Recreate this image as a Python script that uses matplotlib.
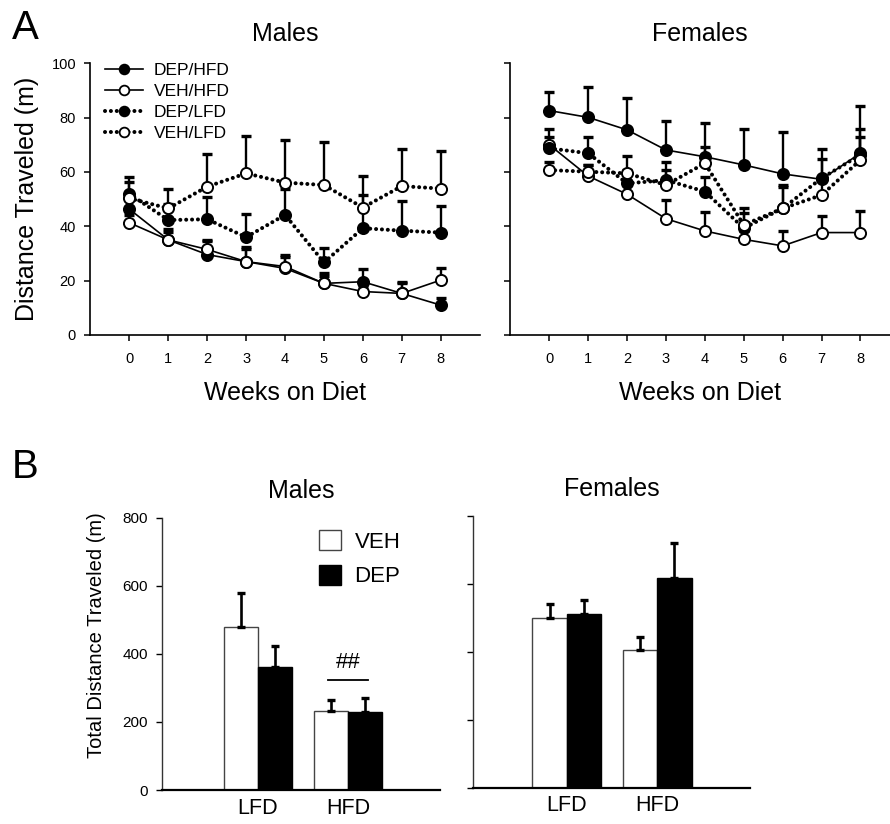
import numpy as np
import matplotlib
matplotlib.use("Agg")
import matplotlib.pyplot as plt
from matplotlib.patches import Patch
from matplotlib.lines import Line2D

plt.rcParams['font.family'] = ['Liberation Sans', 'DejaVu Sans']

# ---------------- data ----------------
weeks = [0, 1, 2, 3, 4, 5, 6, 7, 8]
series_names = ["DEP/HFD", "VEH/HFD", "DEP/LFD", "VEH/LFD"]

m_dep_hfd = [46.3, 35.0, 29.6, 27.0, 24.5, 19.0, 19.6, 15.3, 11.0]
m_dep_hfd_err = [5.0, 4.0, 5.5, 5.5, 5.0, 3.7, 4.6, 4.1, 2.5]
m_veh_hfd = [41.3, 35.0, 31.5, 27.0, 25.2, 19.0, 16.0, 15.3, 20.2]
m_veh_hfd_err = [3.0, 3.0, 3.0, 4.8, 3.6, 2.7, 1.5, 4.0, 4.3]
m_dep_lfd = [51.9, 42.3, 42.6, 36.0, 44.2, 26.7, 39.3, 38.4, 37.7]
m_dep_lfd_err = [4.5, 6.0, 8.3, 8.5, 9.4, 5.2, 12.2, 10.9, 9.8]
m_veh_lfd = [50.3, 46.6, 54.6, 59.5, 56.1, 55.2, 46.9, 54.8, 53.9]
m_veh_lfd_err = [7.7, 7.0, 11.9, 13.9, 15.6, 15.7, 11.6, 13.8, 14.0]

f_dep_hfd = [82.6, 80.1, 75.5, 68.1, 65.6, 62.6, 59.3, 57.3, 66.9]
f_dep_hfd_err = [7.0, 11.3, 11.6, 10.7, 12.6, 13.4, 15.5, 11.2, 17.5]
f_veh_hfd = [70.0, 58.5, 51.8, 42.8, 38.3, 35.2, 32.8, 37.7, 37.7]
f_veh_hfd_err = [3.0, 4.0, 4.0, 6.9, 7.1, 3.0, 5.5, 6.2, 7.9]
f_dep_lfd = [68.7, 66.9, 55.8, 57.0, 52.8, 39.3, 46.6, 57.7, 66.3]
f_dep_lfd_err = [7.3, 6.0, 5.0, 6.8, 5.5, 7.3, 8.6, 7.0, 9.4]
f_veh_lfd = [60.7, 60.1, 59.5, 55.2, 63.2, 40.5, 46.6, 51.5, 64.4]
f_veh_lfd_err = [3.0, 2.5, 6.4, 5.5, 6.1, 4.3, 8.0, 6.0, 8.4]

diets = ["LFD", "HFD"]
m_veh_total = [480, 232]
m_veh_total_err = [100, 32]
m_dep_total = [360, 230]
m_dep_total_err = [64, 39]
f_veh_total = [500, 404]
f_veh_total_err = [40, 40]
f_dep_total = [510, 616]
f_dep_total_err = [43, 103]

W, H = 890, 824
fig = plt.figure(figsize=(W / 100, H / 100), dpi=100)


def ax_px(l, r, t, b):
    return fig.add_axes([l / W, (H - b) / H, (r - l) / W, (b - t) / H])


dotted = (0, (0.01, 1.45))


def line_panel(ax, data, show_labels, show_legend, title):
    styles = [
        dict(ls='-', lw=1.2, mfc='black'),
        dict(ls='-', lw=1.2, mfc='white'),
        dict(ls=dotted, lw=2.9, mfc='black'),
        dict(ls=dotted, lw=2.9, mfc='white'),
    ]
    for (vals, errs), name, st in zip(data, series_names, styles):
        ax.errorbar(weeks, vals, yerr=[np.zeros(len(errs)), errs], fmt='none',
                    ecolor='black', elinewidth=1.7, capsize=3.8, capthick=2.4,
                    zorder=2)
        ax.plot(weeks, vals, color='black', linestyle=st['ls'], lw=st['lw'],
                dash_capstyle='round', marker='o', markersize=8,
                markerfacecolor=st['mfc'], markeredgecolor='black',
                markeredgewidth=1.4, label=name, zorder=3)
    ax.set_ylim(0, 100)
    ax.set_yticks([0, 20, 40, 60, 80, 100])
    ax.set_xticks(weeks)
    for s in ['top', 'right']:
        ax.spines[s].set_visible(False)
    for s in ['left', 'bottom']:
        ax.spines[s].set_linewidth(1.2)
    ax.tick_params(direction='out', length=4, width=1.1, labelsize=10.5, pad=6)
    ax.tick_params(axis='x', pad=8)
    ax.set_xlabel("Weeks on Diet", fontsize=18, labelpad=11)
    ax.set_title(title, fontsize=18, pad=16)
    if show_labels:
        ax.set_ylabel("Distance Traveled (m)", fontsize=18, labelpad=9)
    else:
        ax.set_yticklabels([])
    if show_legend:
        handles = []
        for st, name in zip(styles, series_names):
            handles.append(Line2D([0], [0], color='black', linestyle=st['ls'],
                                  lw=st['lw'], dash_capstyle='round', marker='o',
                                  markersize=7, markerfacecolor=st['mfc'],
                                  markeredgecolor='black', markeredgewidth=1.3))
        ax.legend(handles, series_names, loc='upper left',
                  bbox_to_anchor=((105 - 90) / 390, 1.0),
                  frameon=False, fontsize=12.5, handlelength=2.2,
                  handletextpad=0.6, labelspacing=0.33, borderpad=0,
                  borderaxespad=0)


# ---------------- Panel A ----------------
axA1 = ax_px(90, 480, 63.3, 335)
line_panel(axA1,
           [(m_dep_hfd, m_dep_hfd_err), (m_veh_hfd, m_veh_hfd_err),
            (m_dep_lfd, m_dep_lfd_err), (m_veh_lfd, m_veh_lfd_err)],
           True, True, "Males")
axA1.set_xlim(-1.013, 9.01)

axA2 = ax_px(510, 890, 63.3, 335)
line_panel(axA2,
           [(f_dep_hfd, f_dep_hfd_err), (f_veh_hfd, f_veh_hfd_err),
            (f_dep_lfd, f_dep_lfd_err), (f_veh_lfd, f_veh_lfd_err)],
           False, False, "Females")
axA2.set_xlim(-1.01, 8.76)


# ---------------- Panel B ----------------
def bar_panel(ax, veh, veh_err, dep, dep_err, show_labels, title):
    x = np.arange(len(diets))
    w = 0.383
    ax.bar(x - w / 2, veh, w, color='white', edgecolor='#444444', lw=1.0, zorder=2)
    ax.bar(x + w / 2, dep, w, color='black', edgecolor='black', lw=1.0, zorder=2)
    ax.errorbar(x - w / 2, veh, yerr=[np.zeros(len(veh)), veh_err], fmt='none',
                ecolor='black', elinewidth=1.9, capsize=3.2, capthick=2.4, zorder=3)
    ax.errorbar(x + w / 2, dep, yerr=[np.zeros(len(dep)), dep_err], fmt='none',
                ecolor='black', elinewidth=1.9, capsize=3.2, capthick=2.4, zorder=3)
    ax.set_ylim(0, 800)
    ax.set_yticks([0, 200, 400, 600, 800])
    ax.set_xlim(-1.067, 2.022)
    ax.set_xticks(x)
    ax.set_xticklabels(diets, fontsize=15.5)
    for s in ['top', 'right']:
        ax.spines[s].set_visible(False)
    ax.spines['left'].set_linewidth(1.0)
    ax.spines['left'].set_color('#333333')
    ax.spines['bottom'].set_linewidth(1.6)
    ax.tick_params(axis='y', direction='out', length=4, width=1.0,
                   labelsize=11, pad=6)
    ax.tick_params(axis='x', length=0, pad=5.5)
    ax.set_title(title, fontsize=18, pad=14)
    if show_labels:
        ax.set_ylabel("Total Distance Traveled (m)", fontsize=14.5)
        ax.yaxis.set_label_coords(-0.2014, 0.567)
    else:
        ax.set_yticklabels([])


axB1 = ax_px(162, 440, 517.7, 790)
bar_panel(axB1, m_veh_total, m_veh_total_err, m_dep_total, m_dep_total_err,
          True, "Males")
axB1.legend([Patch(facecolor='white', edgecolor='#444444', lw=1.0),
             Patch(facecolor='black', edgecolor='black')],
            ["VEH", "DEP"], loc='upper left',
            bbox_to_anchor=((319 - 162) / 278, 1 - (530 - 517.7) / 272.3),
            frameon=False, fontsize=16, handlelength=1.0, handleheight=1.0,
            handletextpad=0.6, labelspacing=0.55, borderpad=0, borderaxespad=0)
axB1.plot([0.78, 1.22], [323, 323], color='black', lw=1.3)
axB1.text(1.0, 375, "##", ha='center', va='center', fontsize=16)

axB2 = ax_px(473, 750, 515.7, 787.7)
bar_panel(axB2, f_veh_total, f_veh_total_err, f_dep_total, f_dep_total_err,
          False, "Females")
axB2.set_xlim(-1.04, 2.03)

fig.text(25 / W, 1 - 28 / H, "A", fontsize=29, ha='center', va='center')
fig.text(25 / W, 1 - 467 / H, "B", fontsize=29, ha='center', va='center')

fig.savefig("out.png", dpi=100)
